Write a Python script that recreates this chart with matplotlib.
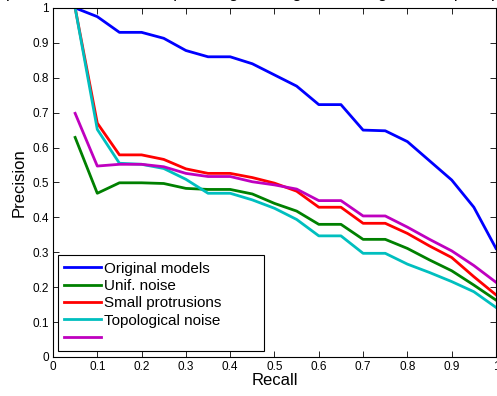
import matplotlib
matplotlib.use('Agg')
import matplotlib.pyplot as plt

plt.rcParams['font.family'] = ['Liberation Sans', 'DejaVu Sans']

recall = [0.05, 0.1, 0.15, 0.2, 0.25, 0.3, 0.35, 0.4, 0.45, 0.5,
          0.55, 0.6, 0.65, 0.7, 0.75, 0.8, 0.85, 0.9, 0.95, 1.0]

original = [1.0, 0.975, 0.930, 0.930, 0.913, 0.878, 0.860, 0.860, 0.840, 0.808,
            0.776, 0.723, 0.723, 0.650, 0.648, 0.617, 0.562, 0.507, 0.429, 0.311]
unif_noise = [0.629, 0.469, 0.499, 0.499, 0.497, 0.483, 0.480, 0.480, 0.467, 0.440,
              0.418, 0.380, 0.380, 0.337, 0.337, 0.311, 0.278, 0.247, 0.206, 0.163]
protrusions = [1.0, 0.670, 0.579, 0.579, 0.566, 0.539, 0.526, 0.526, 0.514, 0.498,
               0.475, 0.429, 0.429, 0.383, 0.383, 0.354, 0.318, 0.285, 0.230, 0.178]
topological = [1.0, 0.652, 0.555, 0.552, 0.540, 0.509, 0.469, 0.469, 0.450, 0.426,
               0.394, 0.347, 0.347, 0.297, 0.297, 0.266, 0.242, 0.216, 0.187, 0.142]
unnamed = [0.698, 0.547, 0.552, 0.552, 0.545, 0.526, 0.517, 0.517, 0.502, 0.493,
           0.481, 0.448, 0.448, 0.404, 0.404, 0.372, 0.337, 0.304, 0.262, 0.214]

series = [original, unif_noise, protrusions, topological, unnamed]
labels = ['Original models', 'Unif. noise', 'Small protrusions', 'Topological noise', '']
colors = [(0, 0, 1), (0, 0.5, 0), (1, 0, 0), (0, 0.75, 0.75), (0.75, 0, 0.75)]
ticks = [0, 0.1, 0.2, 0.3, 0.4, 0.5, 0.6, 0.7, 0.8, 0.9, 1]
tick_labels = ['0', '0.1', '0.2', '0.3', '0.4', '0.5', '0.6', '0.7', '0.8', '0.9', '1']

fig = plt.figure(figsize=(4.97, 3.96), dpi=100)
ax = fig.add_axes([0.1066, 0.0985, 0.8914, 0.8815])

handles = []
for ys, lab, c in zip(series, labels, colors):
    h, = ax.plot(recall, ys, color=c, lw=2, label=lab)
    handles.append(h)

ax.set_xlim(0, 1)
ax.set_ylim(0, 1)
ax.set_xticks(ticks)
ax.set_xticklabels(tick_labels)
ax.set_yticks(ticks)
ax.set_yticklabels(tick_labels)
ax.tick_params(direction='in', length=4, width=0.6, labelsize=8.5,
               top=True, right=True, pad=3)
for sp in ax.spines.values():
    sp.set_linewidth(0.8)

ax.set_xlabel('Recall', fontsize=12, labelpad=0)
ax.set_ylabel('Precision', fontsize=12, labelpad=4)

# box stretched to the width of the MATLAB legend
leg = ax.legend(handles, labels, loc='lower left',
                bbox_to_anchor=(0.011, 0.017, 0.465, 0.27), mode='expand',
                borderaxespad=0, fontsize=11, handlelength=2.4, handletextpad=0.25,
                labelspacing=0.22, fancybox=False, framealpha=1, borderpad=0.4)
leg.get_frame().set_edgecolor('black')
leg.get_frame().set_linewidth(0.8)

# title is mostly cut off by the top edge in the original
fig.text(0.55, 1.004, 'precision-recall on shape recognition against changes in shape topology',
         ha='center', va='baseline', fontsize=12)

fig.savefig('out.png', dpi=100)
